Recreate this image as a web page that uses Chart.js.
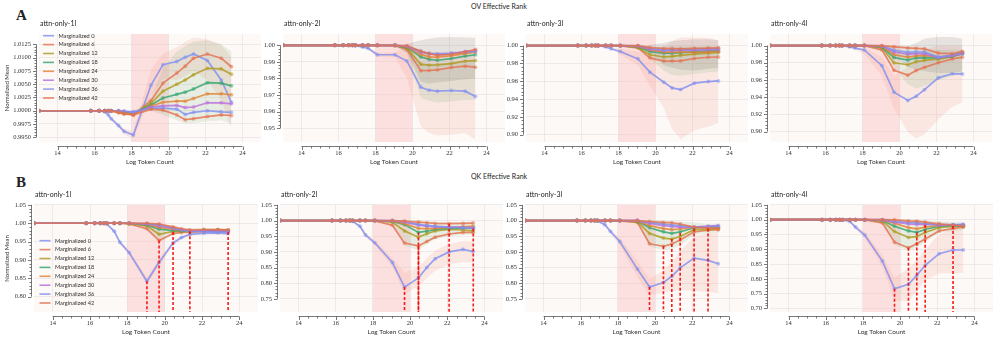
<!DOCTYPE html>
<html>
<head>
<meta charset="utf-8">
<script src="https://cdn.jsdelivr.net/npm/chart.js@4.4.1/dist/chart.umd.min.js"></script>
<style>
body { margin: 0; background: #fff; width: 996px; height: 342px; position: relative; overflow: hidden; }
canvas { position: absolute; }
.t { position: absolute; white-space: nowrap; line-height: 1; color: #222; font-family: Lato, sans-serif; }
</style>
</head>
<body>
<div class="t" style="left:16px;top:7px;font:bold 15px 'Liberation Serif';color:#222">A</div>
<div class="t" style="left:16px;top:174px;font:bold 15px 'Liberation Serif';color:#222">B</div>
<div class="t" style="left:471px;top:3px;font-size:7px;color:#222">OV Effective Rank</div>
<div class="t" style="left:471px;top:173px;font-size:7px;color:#222">QK Effective Rank</div>
<div id="panels"></div>
<script>
// log2 token count of every checkpoint
const tokens = [13, 15.8, 16.25, 16.55, 16.75, 16.9, 17.3, 17.6, 18.1, 19.05, 19.7, 20.45, 20.9, 21.35, 22.1, 22.85, 23.4];
const xTicks = [14, 16, 18, 20, 22, 24];
const marginalized = [0, 6, 12, 18, 24, 30, 36, 42];
const lineColors = ['#7f8ff0', '#e4704e', '#b09a1e', '#32a56e', '#e08232', '#ba6edc', '#7f8ff0', '#e4704e'];

// ---- OV effective rank ----
const ov1l = [
  [1, 1, 1, 0.9998, 0.9992, 0.9985, 0.9972, 0.9961, 0.9954, 1.0048, 1.0087, 1.0093, 1.0101, 1.0107, 1.0095, 1.0058, 1.0016],
  [1, 1, 1, 1, 1, 0.9999, 0.9996, 0.9994, 0.9992, 1.0019, 1.0052, 1.0071, 1.0084, 1.0099, 1.0107, 1.0099, 1.0083],
  [1, 1, 1, 1, 1, 1, 0.9998, 0.9995, 0.9993, 1.0014, 1.0037, 1.0050, 1.0058, 1.0068, 1.0080, 1.0079, 1.0069],
  [1, 1, 1, 1, 1, 1, 0.9999, 0.9997, 0.9995, 1.0011, 1.0024, 1.0031, 1.0035, 1.0041, 1.0053, 1.0052, 1.0047],
  [1, 1, 1, 1, 1, 1, 0.9998, 0.9995, 0.9993, 1.0009, 1.0016, 1.0018, 1.0018, 1.0023, 1.0032, 1.0032, 1.0030],
  [1, 1, 1, 1, 1, 1, 1, 0.9999, 0.9997, 1.0007, 1.0009, 1.0010, 1.0006, 1.0007, 1.0015, 1.0015, 1.0013],
  [1, 1, 1, 1, 1, 1, 1, 0.9999, 0.9998, 1.0005, 1.0005, 1.0003, 0.9993, 0.9997, 1.0000, 0.9998, 0.9997],
  [1, 1, 1, 1, 1, 1, 0.9998, 0.9995, 0.9992, 1.0003, 1.0001, 0.9992, 0.9983, 0.9985, 0.9989, 0.9992, 0.9991]
];
const ov1lPinkLo = [1, 1, 1, 0.9997, 0.9990, 0.9982, 0.9968, 0.9955, 0.9947, 1.0028, 1.0060, 1.0058, 1.0065, 1.0075, 1.0058, 1.0020, 0.9968];
const ov1lPinkHi = [1, 1, 1, 0.9999, 0.9994, 0.9988, 0.9976, 0.9967, 0.9961, 1.0078, 1.0108, 1.0120, 1.0130, 1.0138, 1.0135, 1.0125, 1.0100];
const ov1lGreenLo = [1, 1, 1, 1, 1, 1, 0.9997, 0.9994, 0.9991, 1.0000, 0.9992, 0.9982, 0.9976, 0.9977, 0.9980, 0.9982, 0.9975];
const ov1lGreenHi = [1, 1, 1, 1, 1, 1, 1, 1, 0.9998, 1.0025, 1.0080, 1.0112, 1.0122, 1.0130, 1.0133, 1.0125, 1.0112];

const ov2l = [
  [1, 1, 1, 1, 1, 0.9998, 0.9990, 0.9982, 0.9943, 0.9943, 0.9905, 0.9746, 0.9729, 0.9723, 0.9727, 0.9723, 0.9691],
  [1, 1, 1, 1, 1, 1, 1, 1, 0.9999, 0.9998, 0.9975, 0.9847, 0.9848, 0.9852, 0.9866, 0.9874, 0.9868],
  [1, 1, 1, 1, 1, 1, 1, 1, 1, 0.9999, 0.9982, 0.9885, 0.9880, 0.9882, 0.9890, 0.9904, 0.9908],
  [1, 1, 1, 1, 1, 1, 1, 1, 1, 1, 0.9988, 0.9930, 0.9915, 0.9910, 0.9920, 0.9935, 0.9943],
  [1, 1, 1, 1, 1, 1, 1, 1, 1, 1, 0.9990, 0.9945, 0.9930, 0.9928, 0.9937, 0.9950, 0.9960],
  [1, 1, 1, 1, 1, 1, 1, 1, 1, 1, 0.9993, 0.9958, 0.9948, 0.9944, 0.9950, 0.9962, 0.9970],
  [1, 1, 1, 1, 1, 1, 1, 1, 1, 1, 0.9995, 0.9962, 0.9952, 0.9948, 0.9952, 0.9958, 0.9963],
  [1, 1, 1, 1, 1, 1, 1, 1, 1, 1, 0.9997, 0.9965, 0.9950, 0.9940, 0.9945, 0.9960, 0.9975]
];
const ov2lPinkLo = [1, 1, 1, 1, 1, 0.9996, 0.9986, 0.9975, 0.9930, 0.9928, 0.9800, 0.9510, 0.9470, 0.9455, 0.9460, 0.9470, 0.9430];
const ov2lPinkHi = [1, 1, 1, 1, 1, 1, 0.9994, 0.9989, 0.9956, 0.9958, 0.9990, 0.9960, 0.9960, 0.9960, 0.9965, 0.9965, 0.9960];
const ov2lGreenLo = [1, 1, 1, 1, 1, 1, 1, 1, 0.9998, 0.9995, 0.9950, 0.9680, 0.9665, 0.9655, 0.9660, 0.9670, 0.9670];
const ov2lGreenHi = [1, 1, 1, 1, 1, 1, 1, 1, 1, 1, 0.9995, 0.9900, 0.9890, 0.9890, 0.9900, 0.9910, 0.9910];
const ov2lGreyLo = [1, 1, 1, 1, 1, 1, 1, 1, 1, 0.9998, 0.9960, 0.9780, 0.9770, 0.9775, 0.9785, 0.9795, 0.9800];
const ov2lGreyHi = [1, 1, 1, 1, 1, 1, 1, 1, 1, 1, 1.0010, 1.0030, 1.0040, 1.0048, 1.0050, 1.0048, 1.0045];

const ov3l = [
  [1, 1, 1, 1, 1, 0.9998, 0.9986, 0.9965, 0.9933, 0.9851, 0.9702, 0.9589, 0.9525, 0.9507, 0.9578, 0.9596, 0.9603],
  [1, 1, 1, 1, 1, 1, 1, 0.9999, 0.9997, 0.9975, 0.9862, 0.9826, 0.9826, 0.9828, 0.9855, 0.9869, 0.9872],
  [1, 1, 1, 1, 1, 1, 1, 1, 0.9998, 0.9980, 0.9897, 0.9872, 0.9878, 0.9890, 0.9905, 0.9915, 0.9922],
  [1, 1, 1, 1, 1, 1, 1, 1, 0.9999, 0.9988, 0.9933, 0.9915, 0.9915, 0.9920, 0.9930, 0.9937, 0.9940],
  [1, 1, 1, 1, 1, 1, 1, 1, 1, 0.9992, 0.9950, 0.9926, 0.9926, 0.9928, 0.9924, 0.9928, 0.9933],
  [1, 1, 1, 1, 1, 1, 1, 1, 1, 0.9995, 0.9960, 0.9943, 0.9945, 0.9950, 0.9948, 0.9952, 0.9957],
  [1, 1, 1, 1, 1, 1, 1, 1, 1, 0.9997, 0.9970, 0.9950, 0.9952, 0.9955, 0.9958, 0.9964, 0.9968],
  [1, 1, 1, 1, 1, 1, 1, 1, 1, 0.9999, 0.9978, 0.9968, 0.9966, 0.9962, 0.9968, 0.9972, 0.9975]
];
const ov3lPinkLo = [1, 1, 1, 1, 1, 0.9996, 0.9980, 0.9955, 0.9900, 0.9780, 0.9550, 0.9300, 0.9060, 0.8950, 0.9050, 0.9090, 0.9130];
const ov3lPinkHi = [1, 1, 1, 1, 1, 1, 0.9992, 0.9978, 0.9965, 0.9930, 0.9870, 0.9980, 1.0050, 1.0090, 1.0090, 1.0085, 1.0060];
const ov3lGreenLo = [1, 1, 1, 1, 1, 1, 1, 1, 0.9996, 0.9960, 0.9850, 0.9720, 0.9670, 0.9660, 0.9680, 0.9700, 0.9710];
const ov3lGreenHi = [1, 1, 1, 1, 1, 1, 1, 1, 1, 1, 0.9980, 0.9990, 0.9990, 0.9990, 0.9990, 0.9990, 0.9990];
const ov3lGreyLo = [1, 1, 1, 1, 1, 1, 1, 1, 1, 0.9995, 0.9930, 0.9780, 0.9750, 0.9730, 0.9720, 0.9740, 0.9750];
const ov3lGreyHi = [1, 1, 1, 1, 1, 1, 1, 1, 1, 1, 1.0010, 1.0030, 1.0050, 1.0060, 1.0070, 1.0070, 1.0060];

const ov4l = [
  [1, 1, 1, 1, 1, 0.9998, 0.9985, 0.9970, 0.9949, 0.9766, 0.9458, 0.9363, 0.9410, 0.9488, 0.9625, 0.9672, 0.9670],
  [1, 1, 1, 1, 1, 1, 1, 1, 0.9998, 0.9950, 0.9712, 0.9656, 0.9711, 0.9747, 0.9800, 0.9845, 0.9865],
  [1, 1, 1, 1, 1, 1, 1, 1, 0.9999, 0.9975, 0.9800, 0.9777, 0.9812, 0.9828, 0.9842, 0.9872, 0.9912],
  [1, 1, 1, 1, 1, 1, 1, 1, 1, 0.9982, 0.9860, 0.9832, 0.9857, 0.9860, 0.9857, 0.9875, 0.9905],
  [1, 1, 1, 1, 1, 1, 1, 1, 1, 0.9988, 0.9893, 0.9866, 0.9880, 0.9885, 0.9865, 0.9885, 0.9915],
  [1, 1, 1, 1, 1, 1, 1, 1, 1, 0.9992, 0.9925, 0.9900, 0.9905, 0.9905, 0.9860, 0.9880, 0.9905],
  [1, 1, 1, 1, 1, 1, 1, 1, 1, 0.9995, 0.9945, 0.9922, 0.9925, 0.9925, 0.9865, 0.9890, 0.9920],
  [1, 1, 1, 1, 1, 1, 1, 1, 1, 0.9998, 0.9985, 0.9972, 0.9968, 0.9962, 0.9912, 0.9905, 0.9932]
];
const ov4lPinkLo = [1, 1, 1, 1, 1, 0.9995, 0.9975, 0.9950, 0.9900, 0.9650, 0.9270, 0.8996, 0.8920, 0.8970, 0.9140, 0.9290, 0.9340];
const ov4lPinkHi = [1, 1, 1, 1, 1, 1, 0.9992, 0.9985, 0.9975, 0.9870, 0.9650, 0.9750, 0.9850, 0.9950, 1.0000, 1.0000, 1.0000];
const ov4lGreenLo = [1, 1, 1, 1, 1, 1, 1, 1, 0.9995, 0.9930, 0.9750, 0.9550, 0.9500, 0.9530, 0.9600, 0.9650, 0.9670];
const ov4lGreenHi = [1, 1, 1, 1, 1, 1, 1, 1, 1, 0.9998, 0.9950, 0.9950, 0.9950, 0.9950, 0.9950, 0.9950, 0.9950];
const ov4lGreyLo = [1, 1, 1, 1, 1, 1, 1, 1, 1, 0.9990, 0.9880, 0.9750, 0.9720, 0.9700, 0.9680, 0.9680, 0.9700];
const ov4lGreyHi = [1, 1, 1, 1, 1, 1, 1, 1, 1, 1, 1.0005, 0.9995, 1.0030, 1.0080, 1.0100, 1.0100, 1.0080];

// ---- QK effective rank ----
const qk1l = [
  [1, 1, 1, 1, 1, 0.998, 0.978, 0.948, 0.920, 0.842, 0.894, 0.946, 0.961, 0.970, 0.973, 0.974, 0.972],
  [1, 1, 1, 1, 1, 1, 1, 1, 0.998, 0.985, 0.953, 0.972, 0.975, 0.976, 0.978, 0.979, 0.978],
  [1, 1, 1, 1, 1, 1, 1, 1, 0.999, 0.993, 0.970, 0.978, 0.978, 0.978, 0.980, 0.981, 0.980],
  [1, 1, 1, 1, 1, 1, 1, 1, 1, 0.995, 0.984, 0.980, 0.979, 0.978, 0.980, 0.981, 0.980],
  [1, 1, 1, 1, 1, 1, 1, 1, 1, 0.997, 0.989, 0.984, 0.981, 0.979, 0.981, 0.982, 0.982],
  [1, 1, 1, 1, 1, 1, 1, 1, 1, 0.998, 0.993, 0.986, 0.982, 0.980, 0.979, 0.979, 0.978],
  [1, 1, 1, 1, 1, 1, 1, 1, 1, 0.999, 0.996, 0.988, 0.982, 0.978, 0.977, 0.976, 0.976],
  [1, 1, 1, 1, 1, 1, 1, 1, 1, 1.000, 0.998, 0.990, 0.985, 0.982, 0.983, 0.983, 0.982]
];
const qk1lPinkLo = [1, 1, 1, 1, 1, 0.997, 0.974, 0.942, 0.913, 0.834, 0.884, 0.939, 0.956, 0.965, 0.968, 0.969, 0.967];
const qk1lPinkHi = [1, 1, 1, 1, 1, 0.999, 0.982, 0.954, 0.927, 0.851, 0.904, 0.953, 0.966, 0.975, 0.978, 0.979, 0.977];
const qk1lGreenLo = [1, 1, 1, 1, 1, 1, 1, 1, 0.997, 0.982, 0.947, 0.968, 0.972, 0.973, 0.975, 0.976, 0.975];
const qk1lGreenHi = [1, 1, 1, 1, 1, 1, 1, 1, 1, 1.001, 1.000, 0.993, 0.988, 0.986, 0.987, 0.987, 0.986];
const qk1lDropX = [19.05, 19.7, 20.45, 21.35, 23.4];
const qk1lDropY = [0.842, 0.953, 0.976, 0.978, 0.976];

const qk2l = [
  [1, 1, 1, 1, 1, 0.998, 0.982, 0.954, 0.929, 0.866, 0.7875, 0.817, 0.850, 0.878, 0.900, 0.908, 0.901],
  [1, 1, 1, 1, 1, 1, 1, 1, 0.999, 0.985, 0.928, 0.919, 0.933, 0.947, 0.957, 0.962, 0.962],
  [1, 1, 1, 1, 1, 1, 1, 1, 1, 0.995, 0.967, 0.947, 0.958, 0.967, 0.972, 0.970, 0.967],
  [1, 1, 1, 1, 1, 1, 1, 1, 1, 0.997, 0.987, 0.962, 0.966, 0.972, 0.975, 0.976, 0.977],
  [1, 1, 1, 1, 1, 1, 1, 1, 1, 0.998, 0.990, 0.975, 0.974, 0.975, 0.978, 0.980, 0.982],
  [1, 1, 1, 1, 1, 1, 1, 1, 1, 0.999, 0.995, 0.985, 0.982, 0.980, 0.979, 0.978, 0.977],
  [1, 1, 1, 1, 1, 1, 1, 1, 1, 1.000, 0.997, 0.988, 0.985, 0.982, 0.979, 0.977, 0.975],
  [1, 1, 1, 1, 1, 1, 1, 1, 1, 1.000, 0.998, 0.995, 0.993, 0.991, 0.990, 0.991, 0.992]
];
const qk2lPinkLo = [1, 1, 1, 1, 1, 0.996, 0.977, 0.947, 0.921, 0.852, 0.765, 0.790, 0.815, 0.840, 0.860, 0.868, 0.865];
const qk2lPinkHi = [1, 1, 1, 1, 1, 1, 0.987, 0.961, 0.937, 0.880, 0.835, 0.850, 0.880, 0.905, 0.925, 0.935, 0.932];
const qk2lGreenLo = [1, 1, 1, 1, 1, 1, 1, 1, 0.998, 0.982, 0.920, 0.905, 0.925, 0.940, 0.950, 0.955, 0.955];
const qk2lGreenHi = [1, 1, 1, 1, 1, 1, 1, 1, 1, 1.001, 1.001, 1.000, 0.998, 0.996, 0.995, 0.995, 0.996];
const qk2lDropX = [19.7, 20.45, 20.45, 22.1, 23.4];
const qk2lDropY = [0.7875, 0.919, 0.962, 0.990, 0.975];

const qk3l = [
  [1, 1, 1, 1, 1, 0.999, 0.987, 0.965, 0.933, 0.845, 0.788, 0.802, 0.822, 0.849, 0.880, 0.873, 0.862],
  [1, 1, 1, 1, 1, 1, 1, 1, 0.999, 0.994, 0.926, 0.918, 0.925, 0.938, 0.964, 0.969, 0.971],
  [1, 1, 1, 1, 1, 1, 1, 1, 1, 0.996, 0.959, 0.944, 0.941, 0.949, 0.971, 0.972, 0.974],
  [1, 1, 1, 1, 1, 1, 1, 1, 1, 0.998, 0.977, 0.964, 0.959, 0.964, 0.977, 0.978, 0.979],
  [1, 1, 1, 1, 1, 1, 1, 1, 1, 0.999, 0.984, 0.974, 0.971, 0.973, 0.979, 0.977, 0.976],
  [1, 1, 1, 1, 1, 1, 1, 1, 1, 1.000, 0.991, 0.984, 0.981, 0.979, 0.979, 0.982, 0.984],
  [1, 1, 1, 1, 1, 1, 1, 1, 1, 1.000, 0.994, 0.989, 0.986, 0.984, 0.979, 0.980, 0.982],
  [1, 1, 1, 1, 1, 1, 1, 1, 1, 1.000, 0.997, 0.994, 0.993, 0.989, 0.979, 0.976, 0.974]
];
const qk3lPinkLo = [1, 1, 1, 1, 1, 0.997, 0.982, 0.958, 0.922, 0.820, 0.760, 0.770, 0.775, 0.778, 0.775, 0.772, 0.768];
const qk3lPinkHi = [1, 1, 1, 1, 1, 1, 0.992, 0.972, 0.944, 0.870, 0.815, 0.840, 0.870, 0.900, 0.950, 0.960, 0.962];
const qk3lGreenLo = [1, 1, 1, 1, 1, 1, 1, 1, 0.998, 0.990, 0.918, 0.905, 0.908, 0.920, 0.955, 0.960, 0.962];
const qk3lGreenHi = [1, 1, 1, 1, 1, 1, 1, 1, 1, 1.001, 1.002, 1.000, 0.998, 0.996, 0.994, 0.990, 0.990];
const qk3lDropX = [19.7, 20.45, 20.9, 21.35, 22.1, 22.85];
const qk3lDropY = [0.788, 0.918, 0.941, 0.961, 0.975, 0.975];

const qk4l = [
  [1, 1, 1, 1, 1, 0.999, 0.994, 0.975, 0.948, 0.860, 0.7665, 0.7816, 0.812, 0.846, 0.885, 0.8975, 0.8975],
  [1, 1, 1, 1, 1, 1, 1, 1, 0.999, 0.989, 0.924, 0.905, 0.919, 0.935, 0.962, 0.970, 0.975],
  [1, 1, 1, 1, 1, 1, 1, 1, 1, 0.995, 0.960, 0.940, 0.943, 0.957, 0.973, 0.977, 0.978],
  [1, 1, 1, 1, 1, 1, 1, 1, 1, 0.997, 0.978, 0.962, 0.957, 0.967, 0.978, 0.979, 0.979],
  [1, 1, 1, 1, 1, 1, 1, 1, 1, 0.998, 0.988, 0.973, 0.969, 0.975, 0.981, 0.981, 0.981],
  [1, 1, 1, 1, 1, 1, 1, 1, 1, 0.999, 0.992, 0.9856, 0.984, 0.984, 0.982, 0.982, 0.984],
  [1, 1, 1, 1, 1, 1, 1, 1, 1, 1.000, 0.995, 0.991, 0.989, 0.987, 0.984, 0.983, 0.983],
  [1, 1, 1, 1, 1, 1, 1, 1, 1, 1.000, 0.9995, 0.996, 0.995, 0.992, 0.986, 0.982, 0.978]
];
const qk4lPinkLo = [1, 1, 1, 1, 1, 0.998, 0.990, 0.968, 0.938, 0.840, 0.725, 0.725, 0.760, 0.795, 0.818, 0.820, 0.820];
const qk4lPinkHi = [1, 1, 1, 1, 1, 1, 0.998, 0.982, 0.958, 0.880, 0.805, 0.835, 0.865, 0.900, 0.950, 0.968, 0.970];
const qk4lGreenLo = [1, 1, 1, 1, 1, 1, 1, 1, 0.998, 0.985, 0.915, 0.895, 0.905, 0.925, 0.955, 0.962, 0.965];
const qk4lGreenHi = [1, 1, 1, 1, 1, 1, 1, 1, 1, 1.001, 1.002, 1.001, 1.000, 0.998, 0.996, 0.993, 0.993];
const qk4lDropX = [19.7, 20.45, 20.9, 21.35, 22.85];
const qk4lDropY = [0.7665, 0.905, 0.957, 0.983, 0.979];

const bandTones = {
  pink: 'rgba(245,140,125,0.17)',
  green: 'rgba(110,170,110,0.15)',
  grey: 'rgba(95,95,95,0.15)'
};

// rect = [left, top, right, bottom] of the plot area on the page; y = [min, max, step, decimals]
const panels = [
  { title: 'attn-only-1l', rect: [39, 28, 261, 142], y: [0.9941, 1.0145, 0.0025, 4], series: ov1l,
    bands: [[ov1lGreenLo, ov1lGreenHi, 'green'], [ov1lPinkLo, ov1lPinkHi, 'pink']], legend: { x: 43, y: 35.7 } },
  { title: 'attn-only-2l', rect: [283, 28, 505, 142], y: [0.9416, 1.0069, 0.01, 2], series: ov2l,
    bands: [[ov2lGreenLo, ov2lGreenHi, 'green'], [ov2lGreyLo, ov2lGreyHi, 'grey'], [ov2lPinkLo, ov2lPinkHi, 'pink']] },
  { title: 'attn-only-3l', rect: [526, 28, 748, 142], y: [0.8918, 1.0131, 0.02, 2], series: ov3l,
    bands: [[ov3lGreenLo, ov3lGreenHi, 'green'], [ov3lGreyLo, ov3lGreyHi, 'grey'], [ov3lPinkLo, ov3lPinkHi, 'pink']] },
  { title: 'attn-only-4l', rect: [770, 28, 992, 142], y: [0.888, 1.0135, 0.02, 2], series: ov4l,
    bands: [[ov4lGreenLo, ov4lGreenHi, 'green'], [ov4lGreyLo, ov4lGreyHi, 'grey'], [ov4lPinkLo, ov4lPinkHi, 'pink']] },
  { title: 'attn-only-1l', rect: [34, 199, 258, 312], y: [0.7584, 1.05, 0.05, 2], series: qk1l,
    bands: [[qk1lGreenLo, qk1lGreenHi, 'green'], [qk1lPinkLo, qk1lPinkHi, 'pink']],
    drops: [qk1lDropX, qk1lDropY], legend: { x: 39.5, y: 240.7 } },
  { title: 'attn-only-2l', rect: [280, 199, 503, 312], y: [0.708, 1.05, 0.05, 2], series: qk2l,
    bands: [[qk2lGreenLo, qk2lGreenHi, 'green'], [qk2lPinkLo, qk2lPinkHi, 'pink']], drops: [qk2lDropX, qk2lDropY] },
  { title: 'attn-only-3l', rect: [525, 199, 748, 312], y: [0.708, 1.05, 0.05, 2], series: qk3l,
    bands: [[qk3lGreenLo, qk3lGreenHi, 'green'], [qk3lPinkLo, qk3lPinkHi, 'pink']], drops: [qk3lDropX, qk3lDropY] },
  { title: 'attn-only-4l', rect: [770, 199, 993, 312], y: [0.688, 1.05, 0.05, 2], series: qk4l,
    bands: [[qk4lGreenLo, qk4lGreenHi, 'green'], [qk4lPinkLo, qk4lPinkHi, 'pink']], drops: [qk4lDropX, qk4lDropY] }
];

const pts = vals => tokens.map((x, i) => ({ x, y: vals[i] }));
const alpha = (hex, a) => {
  const n = parseInt(hex.slice(1), 16);
  return `rgba(${n >> 16}, ${(n >> 8) & 255}, ${n & 255}, ${a})`;
};

const decor = {
  id: 'decor',
  beforeDraw(chart) {
    const { ctx, chartArea: a } = chart;
    ctx.save();
    ctx.fillStyle = '#fdf9f7';
    ctx.fillRect(a.left, a.top, a.width, a.height);
    ctx.restore();
  },
  beforeDatasetsDraw(chart) {
    const { ctx, chartArea: a, scales: { x } } = chart;
    const x0 = x.getPixelForValue(18), x1 = x.getPixelForValue(20);
    ctx.save();
    ctx.fillStyle = 'rgba(250,185,185,0.38)';
    ctx.fillRect(x0, a.top, x1 - x0, a.height);
    ctx.restore();
  },
  afterDraw(chart, args, opts) {
    const { ctx, chartArea: a, scales: { x, y } } = chart;
    ctx.save();
    ctx.strokeStyle = '#555';
    ctx.lineWidth = 0.8;
    ctx.beginPath();
    // offset x spine, trimmed to the outer ticks
    const sy = Math.round(a.bottom + 3.5) + 0.5;
    const xt = x.ticks.map(t => t.value);
    ctx.moveTo(x.getPixelForValue(xt[0]), sy);
    ctx.lineTo(x.getPixelForValue(xt[xt.length - 1]), sy);
    for (let k = 0; k <= (xt.length - 1) * 4; k++) {
      const px = Math.round(x.getPixelForValue(xt[0] + k * 0.5)) + 0.5;
      ctx.moveTo(px, sy);
      ctx.lineTo(px, sy + (k % 4 === 0 ? 3.5 : 2));
    }
    // offset y spine
    const sx = Math.round(a.left - 3.5) + 0.5;
    const yt = y.ticks.map(t => t.value);
    const step = yt[1] - yt[0];
    ctx.moveTo(sx, y.getPixelForValue(yt[0]));
    ctx.lineTo(sx, y.getPixelForValue(yt[yt.length - 1]));
    for (let k = 0; k <= (yt.length - 1) * 5; k++) {
      const py = Math.round(y.getPixelForValue(yt[0] + k * step / 5)) + 0.5;
      ctx.moveTo(sx, py);
      ctx.lineTo(sx - (k % 5 === 0 ? 3.5 : 2), py);
    }
    ctx.stroke();

    if (opts.legend) {
      const lx = opts.legend.x - opts.left, ly0 = opts.legend.y - opts.top;
      ctx.font = '5.6px Lato';
      ctx.textBaseline = 'middle';
      chart.data.datasets.filter(d => d.isSeries).forEach((d, i) => {
        const ly = ly0 + i * 8.9;
        ctx.strokeStyle = d.borderColor;
        ctx.lineWidth = 1.6;
        ctx.beginPath();
        ctx.moveTo(lx, ly);
        ctx.lineTo(lx + 11, ly);
        ctx.stroke();
        ctx.fillStyle = '#333';
        ctx.fillText(d.label, lx + 15.5, ly);
      });
    }
    ctx.restore();
  }
};

const holder = document.getElementById('panels');

panels.forEach((p, n) => {
  const [L, T, R, B] = p.rect;
  const [yMin, yMax, yStep, yDec] = p.y;
  const firstCol = n % 4 === 0;
  const cLeft = firstCol ? 0 : L - 40;
  const cTop = T - 6;
  const yW = L - cLeft;

  const canvas = document.createElement('canvas');
  canvas.width = R - cLeft + 6;
  canvas.height = B - cTop + 28;
  canvas.style.left = cLeft + 'px';
  canvas.style.top = cTop + 'px';
  holder.appendChild(canvas);

  const title = document.createElement('div');
  title.className = 't';
  title.style.cssText = `left:${L + 1}px;top:${T - 8.5}px;font-size:7px;color:#222`;
  title.textContent = p.title;
  holder.appendChild(title);

  const datasets = [];
  p.bands.forEach(([lo, hi, tone]) => {
    datasets.push({ data: pts(lo), borderColor: 'transparent', borderWidth: 0, pointRadius: 0, fill: false, order: 30 });
    datasets.push({ data: pts(hi), borderColor: 'transparent', borderWidth: 0, pointRadius: 0, fill: '-1',
      backgroundColor: bandTones[tone], order: 30 });
  });
  p.series.forEach((vals, i) => {
    datasets.push({
      label: `Marginalized ${marginalized[i]}`,
      isSeries: true,
      data: pts(vals),
      borderColor: alpha(lineColors[i], 0.82),
      borderWidth: 1.7,
      pointRadius: 2,
      pointBackgroundColor: alpha(lineColors[i], 0.5),
      pointBorderWidth: 0,
      fill: false,
      order: 20 - i
    });
  });
  if (p.drops) {
    const [dx, dy] = p.drops;
    dx.forEach((x, k) => {
      datasets.push({
        data: [{ x, y: dy[k] }, { x, y: yMin }],
        borderColor: 'rgba(245,15,15,0.95)',
        borderWidth: 1.6,
        borderDash: [3, 2],
        pointRadius: 0,
        fill: false,
        order: 0
      });
    });
  }

  new Chart(canvas, {
    type: 'line',
    data: { datasets },
    plugins: [decor],
    options: {
      responsive: false,
      animation: false,
      devicePixelRatio: 1,
      layout: { padding: { top: 6, right: 6, left: 0, bottom: 0 } },
      elements: { line: { tension: 0 } },
      plugins: {
        legend: { display: false },
        tooltip: { enabled: false },
        decor: { legend: p.legend, left: cLeft, top: cTop }
      },
      scales: {
        x: {
          type: 'linear',
          min: 13,
          max: 25,
          afterFit: s => { s.height = 28; },
          afterBuildTicks: s => { s.ticks = xTicks.map(value => ({ value })); },
          border: { display: false },
          grid: { color: '#ebe6e4', lineWidth: 0.8, drawTicks: false },
          ticks: { padding: 7, color: '#333', font: { family: 'Liberation Serif', size: 6.5 } },
          title: { display: true, text: 'Log Token Count', color: '#333', padding: { top: 0, bottom: 4 },
            font: { family: 'Lato', size: 6.5 } }
        },
        y: {
          type: 'linear',
          min: yMin,
          max: yMax,
          afterFit: s => { s.width = yW; },
          border: { display: false },
          grid: { color: '#ebe6e4', lineWidth: 0.8, drawTicks: false },
          ticks: { stepSize: yStep, includeBounds: false, padding: 8, color: '#333',
            font: { family: 'Liberation Serif', size: 6.5 },
            callback: v => Number(v).toFixed(yDec) },
          title: { display: firstCol, text: 'Normalized Mean', color: '#333', padding: { top: 3, bottom: 0 },
            font: { family: 'Lato', size: 6 } }
        }
      }
    }
  });
});
</script>
</body>
</html>
